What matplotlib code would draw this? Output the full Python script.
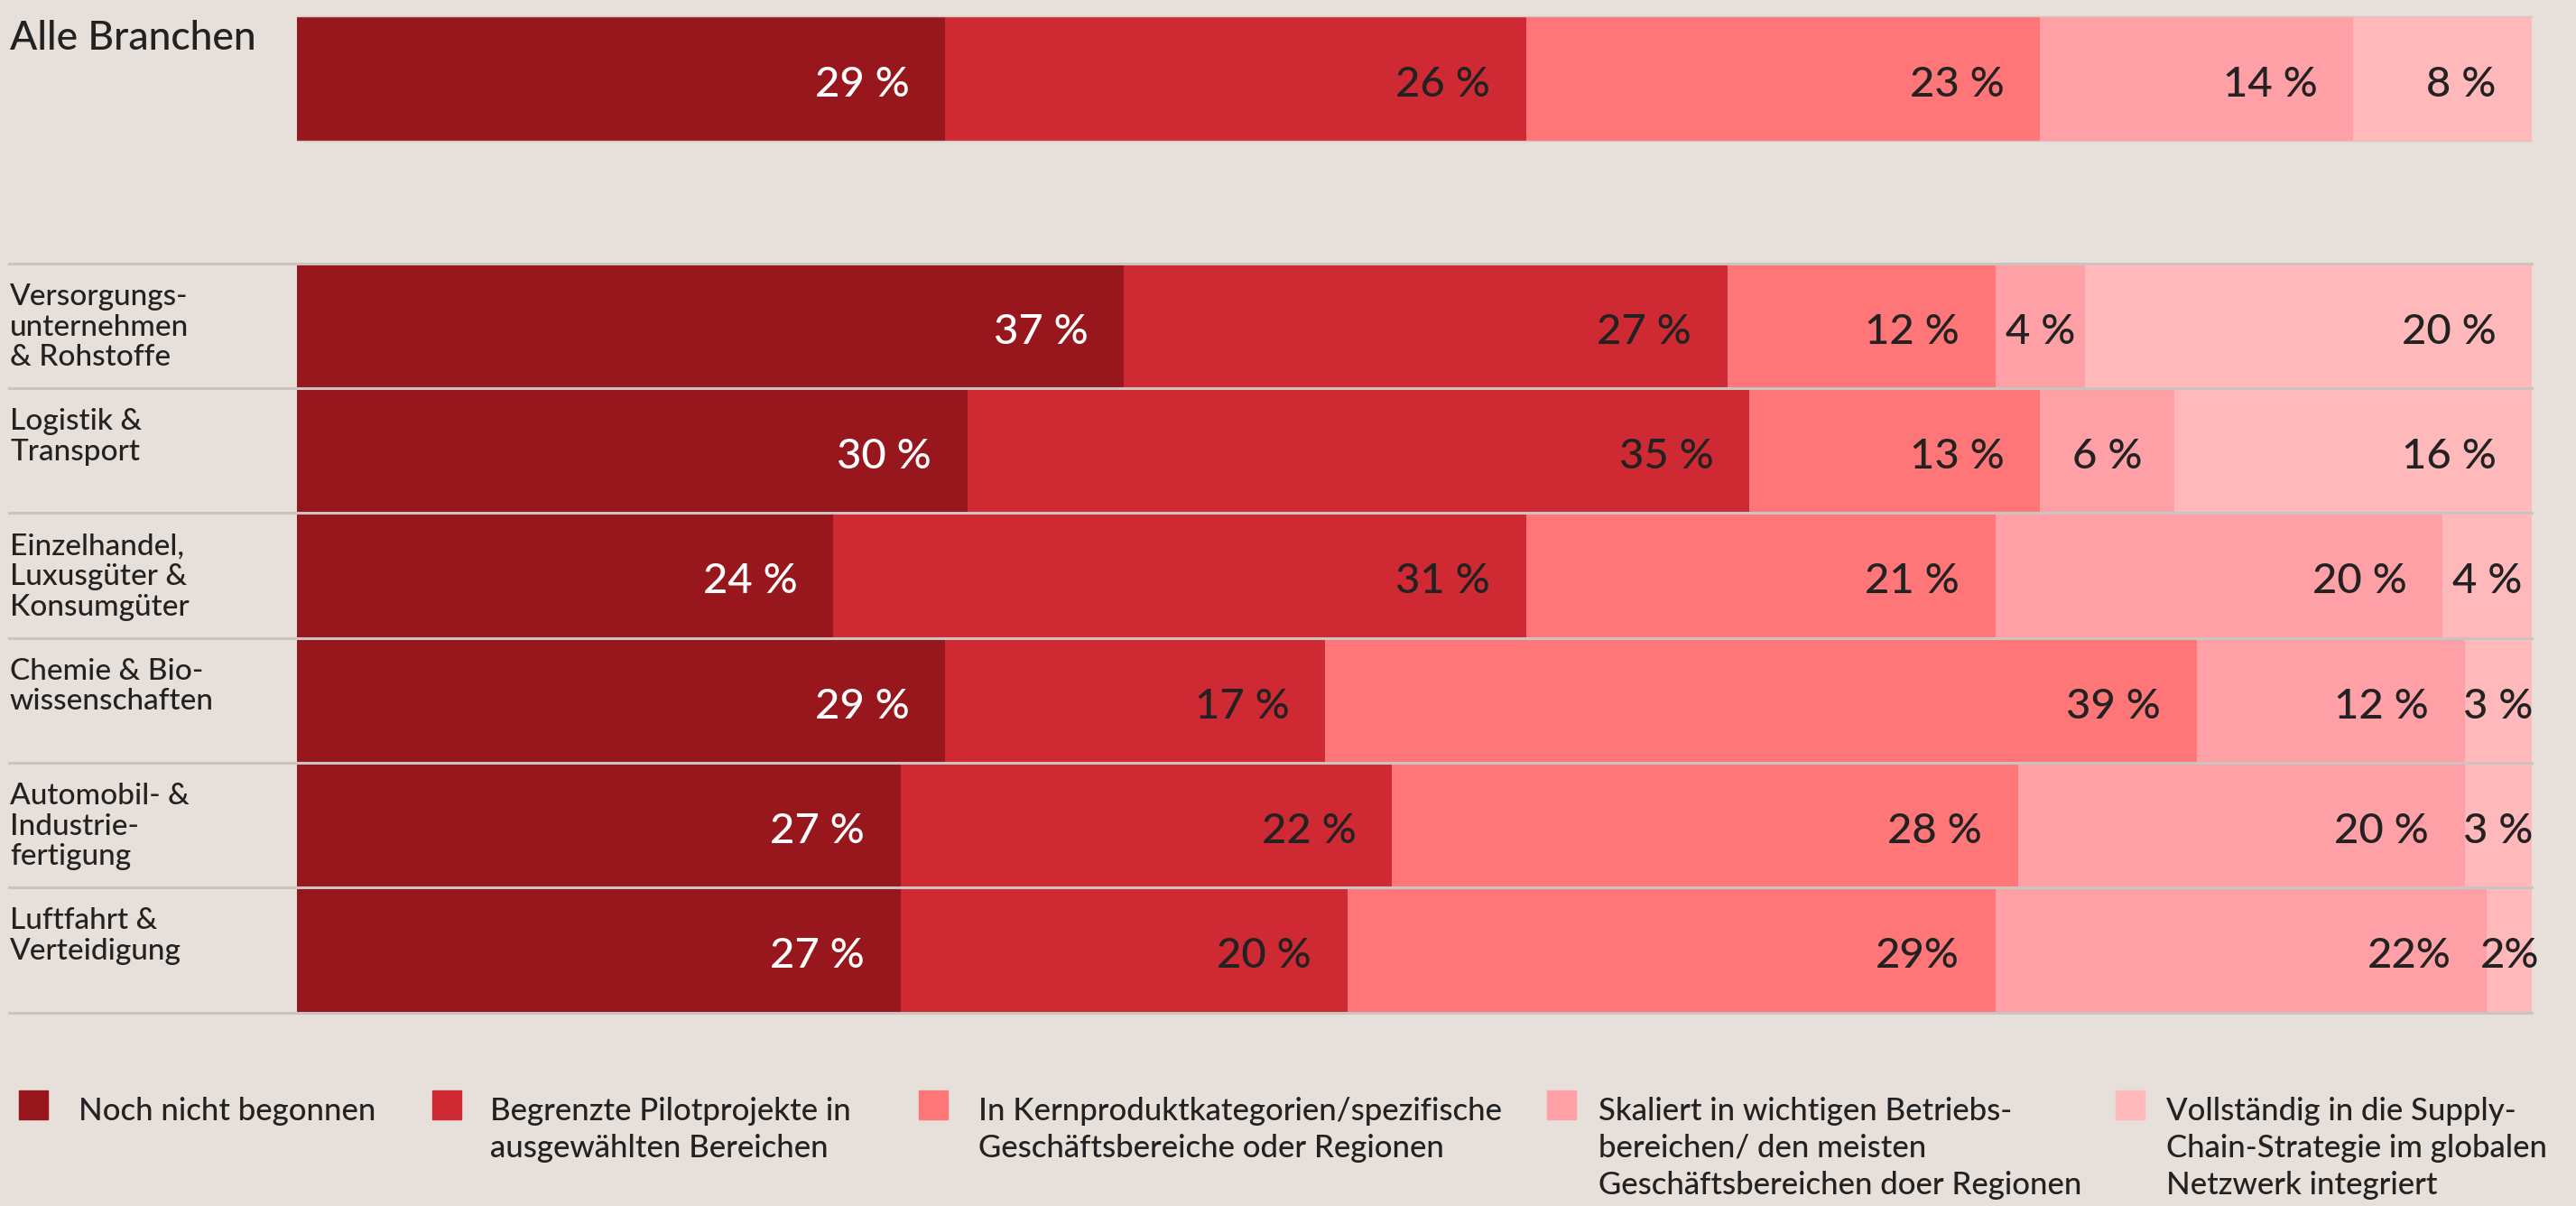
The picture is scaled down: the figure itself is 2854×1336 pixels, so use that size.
import matplotlib
matplotlib.use("Agg")
import matplotlib.pyplot as plt
from matplotlib.patches import Rectangle
from matplotlib.transforms import blended_transform_factory

plt.rcParams['font.family'] = ['Lato', 'DejaVu Sans']
plt.rcParams['font.weight'] = 'medium'

# --- data -------------------------------------------------------------
categories = [
    "Alle Branchen",
    "Versorgungs-\nunternehmen\n& Rohstoffe",
    "Logistik &\nTransport",
    "Einzelhandel,\nLuxusgüter &\nKonsumgüter",
    "Chemie & Bio-\nwissenschaften",
    "Automobil- &\nIndustrie-\nfertigung",
    "Luftfahrt &\nVerteidigung",
]
not_started = [29, 37, 30, 24, 29, 27, 27]
pilot = [26, 27, 35, 31, 17, 22, 20]
core_units = [23, 12, 13, 21, 39, 28, 29]
scaled = [14, 4, 6, 20, 12, 20, 22]
integrated = [8, 20, 16, 4, 3, 3, 2]
series = [not_started, pilot, core_units, scaled, integrated]

legend_labels = [
    "Noch nicht begonnen",
    "Begrenzte Pilotprojekte in\nausgewählten Bereichen",
    "In Kernproduktkategorien/spezifische\nGeschäftsbereiche oder Regionen",
    "Skaliert in wichtigen Betriebs-\nbereichen/ den meisten\nGeschäftsbereichen doer Regionen",
    "Vollständig in die Supply-\nChain-Strategie im globalen\nNetzwerk integriert",
]
# labels written without the space before "%" in the source (row, series)
tight_pct = {(6, 2), (6, 3), (6, 4)}

colors = ["#98171D", "#CF2A33", "#FF7678", "#FEA0A5", "#FFB9BB"]
BG = "#E7DFDA"
TXT = "#222222"

# --- layout (pixels) --------------------------------------------------
W, H = 2854, 1336
PITCH = 138.3
bar_left, bar_right = 329, 2805
ax_top, ax_bottom = 18, 1123

fig = plt.figure(figsize=(W / 100, H / 100), dpi=100, facecolor=BG)
ax = fig.add_axes([bar_left / W, 1 - ax_bottom / H,
                   (bar_right - bar_left) / W, (ax_bottom - ax_top) / H])
ax.set_facecolor(BG)
ax.set_xlim(0, 100)
ax.set_ylim(-0.5 + (ax_bottom - ax_top) / PITCH, -0.5)
ax.axis("off")

ypos = [0] + [1.98 + i for i in range(len(categories) - 1)]

left = [0] * len(categories)
for s, (vals, col) in enumerate(zip(series, colors)):
    ax.barh(ypos, vals, left=left, height=1.0, color=col, linewidth=0, zorder=2)
    for r, (v, l0, y) in enumerate(zip(vals, left, ypos)):
        txt = f"{v}%" if (r, s) in tight_pct else f"{v} %"
        tc = "white" if s == 0 else TXT
        if v <= 6:
            ax.text(l0 + v / 2, y + 0.05, txt, ha="center", va="center",
                    fontsize=34, color=tc, zorder=4)
        else:
            ax.text(l0 + v - 1.6, y + 0.05, txt, ha="right", va="center",
                    fontsize=34, color=tc, zorder=4)
    left = [a + b for a, b in zip(left, vals)]

# separators
ytr = ax.get_yaxis_transform()
line_x0 = (10 - bar_left) / (bar_right - bar_left)
for k in range(len(categories)):
    ax.plot([line_x0, 1], [ypos[1] - 0.5 + k] * 2, transform=ytr,
            color="#CBC3BF", lw=2.2, clip_on=False, zorder=3)
for yy in (-0.5, 0.5):
    ax.plot([0, 1], [yy, yy], transform=ytr, color="#D9C6C3", lw=1,
            clip_on=False, zorder=3)

# category labels
lab_tr = blended_transform_factory(fig.transFigure, ax.transData)
ax.text(11 / W, -0.5 + 0.03, categories[0], transform=lab_tr, ha="left",
        va="top", fontsize=32, color=TXT)
for cat, y in zip(categories[1:], ypos[1:]):
    ax.text(11 / W, y - 0.5 + 0.16, cat, transform=lab_tr, ha="left",
            va="top", fontsize=24, color=TXT, linespacing=1.15)

# legend
leg_x = [21, 479, 1018, 1714, 2344]
leg_text_x = [87, 543, 1084, 1771, 2400]
leg_y = 1208
for x, tx, col, lab in zip(leg_x, leg_text_x, colors, legend_labels):
    fig.patches.append(Rectangle((x / W, 1 - (leg_y + 32) / H), 32 / W, 32 / H,
                                 transform=fig.transFigure, color=col))
    fig.text(tx / W, 1 - (leg_y + 7) / H, lab, ha="left", va="top",
             fontsize=25, color=TXT, linespacing=1.34)

fig.savefig("out.png", dpi=100, facecolor=BG)
